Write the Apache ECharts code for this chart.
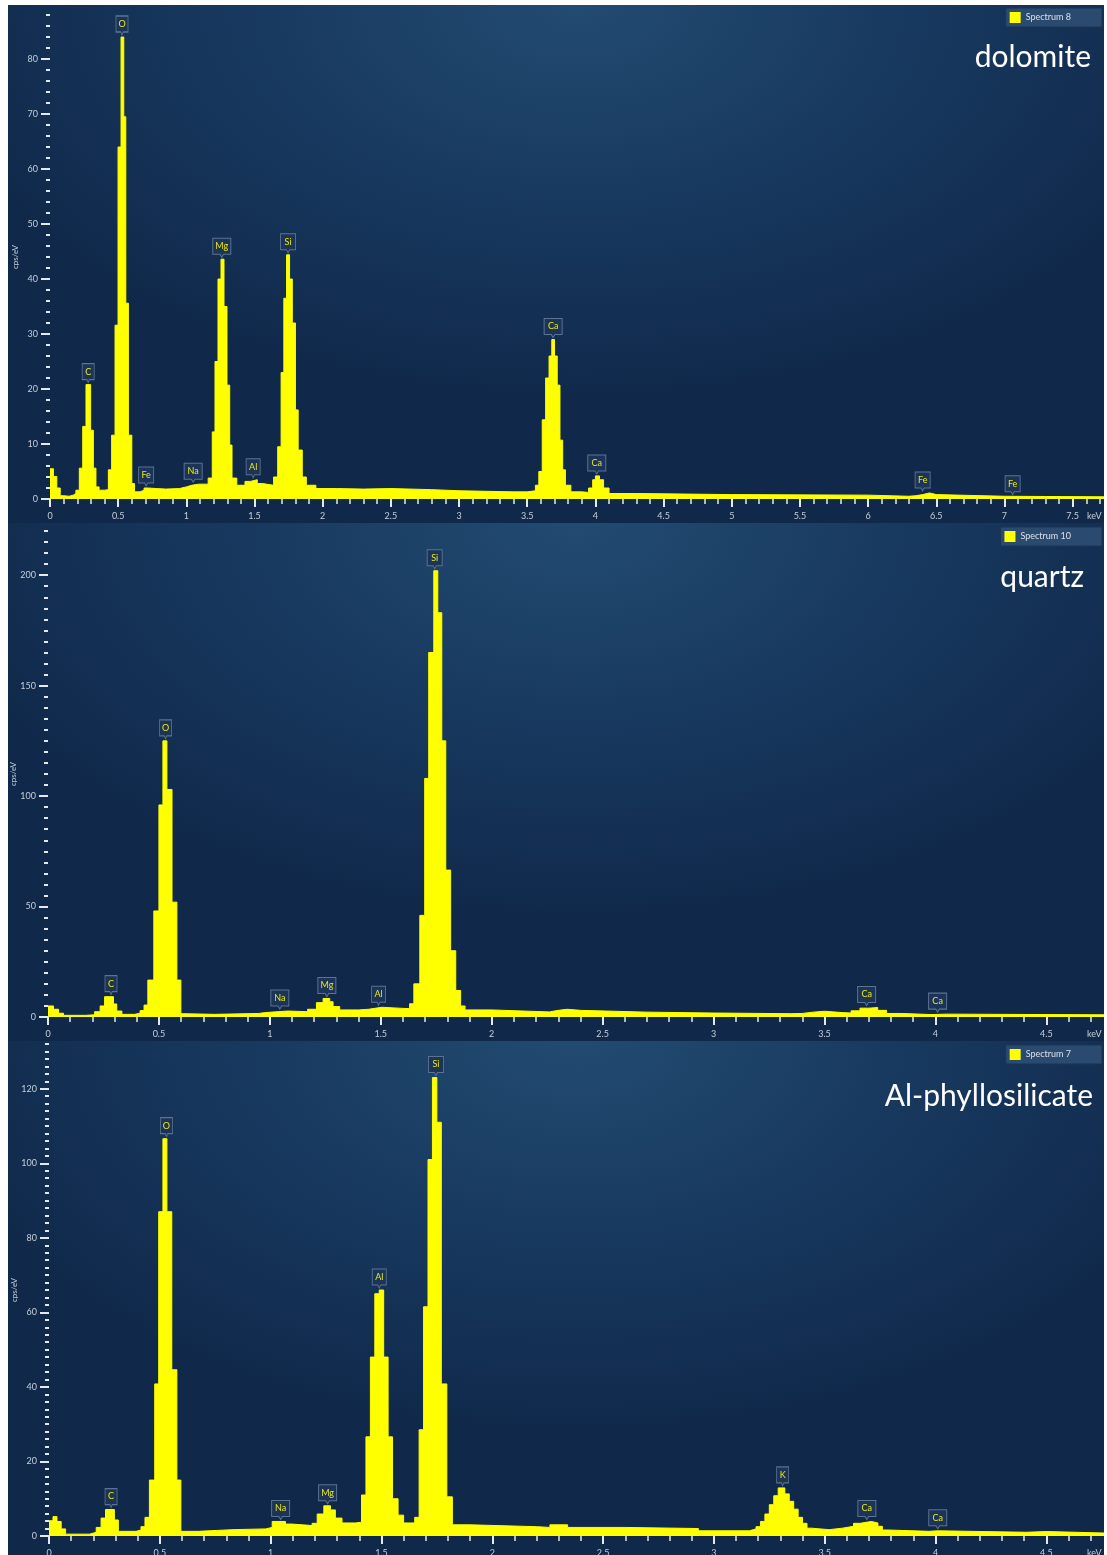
<!DOCTYPE html>
<html>
<head>
<meta charset="utf-8">
<script src="https://cdn.jsdelivr.net/npm/echarts@6/dist/echarts.min.js"></script>
<style>
  html, body { margin: 0; padding: 0; background: #ffffff; }
  #wrap { position: relative; width: 1107px; height: 1555px; }
  .panel { position: absolute; left: 8px; width: 1096px;
    background: radial-gradient(ellipse 75% 95% at 52% 0%, #224b71 0%, #18395f 40%, #10294b 80%); }
  #chart { position: absolute; left: 0; top: 0; width: 1107px; height: 1555px; }
</style>
</head>
<body>
<div id="wrap">
  <div class="panel" style="top:5px;height:518px"></div>
  <div class="panel" style="top:523px;height:518px"></div>
  <div class="panel" style="top:1041px;height:514px"></div>
  <div id="chart"></div>
</div>
<script>
// spectra: [keV (left edge of bin), cps/eV]
const dolomite = [
  [0, 5.5], [0.025, 4.1], [0.05, 2.0], [0.075, 0.6], [0.10, 0.5], [0.14, 0.7], [0.17, 1.0], [0.19, 1.6],
  [0.215, 5.6], [0.24, 13.2], [0.264, 20.8], [0.298, 12.5], [0.318, 5.6], [0.337, 2.2], [0.36, 1.6], [0.40, 1.7],
  [0.428, 5.3], [0.452, 11.6], [0.477, 31.6], [0.499, 64], [0.521, 84], [0.541, 69.5], [0.556, 35.6], [0.575, 11.6],
  [0.60, 2.8], [0.62, 1.3], [0.66, 1.6], [0.69, 2.0], [0.72, 1.9], [0.78, 1.8], [0.85, 1.9], [0.95, 2.2],
  [1.00, 2.5], [1.04, 2.7], [1.09, 2.7], [1.16, 3.8], [1.19, 12.2], [1.21, 25], [1.232, 40], [1.254, 43.6],
  [1.276, 35], [1.298, 20.7], [1.318, 9.8], [1.335, 3.8], [1.37, 2.5], [1.43, 3.2], [1.47, 3.5], [1.52, 2.8],
  [1.56, 2.5], [1.64, 4.0], [1.67, 9.5], [1.695, 23], [1.715, 36.5], [1.735, 44.4], [1.757, 40], [1.777, 32],
  [1.80, 16.2], [1.82, 8.9], [1.85, 4.0], [1.88, 2.5], [1.95, 1.9], [2.1, 1.8], [2.3, 1.9], [2.5, 1.7],
  [2.8, 1.5], [3.0, 1.4], [3.2, 1.3], [3.4, 1.3], [3.5, 1.5], [3.56, 2.5], [3.585, 5.0], [3.61, 14.4],
  [3.635, 22], [3.66, 26], [3.68, 29], [3.70, 26], [3.72, 20.7], [3.74, 10.7], [3.76, 5.3], [3.78, 2.5],
  [3.82, 1.3], [3.9, 1.2], [3.95, 2.0], [3.98, 3.5], [4.0, 4.2], [4.03, 3.5], [4.06, 2.0], [4.1, 1.0],
  [4.3, 0.8], [5.0, 0.7], [6.0, 0.5], [6.3, 0.6], [6.35, 0.8], [6.4, 1.1], [6.45, 0.8], [6.5, 0.5],
  [7.0, 0.4], [7.73, 0.3]
];

const quartz = [
  [0, 5.0], [0.025, 3.5], [0.048, 1.7], [0.07, 0.75], [0.17, 1.0], [0.21, 2.4], [0.235, 5.0], [0.255, 9.2],
  [0.295, 5.9], [0.31, 2.7], [0.333, 1.2], [0.39, 1.7], [0.415, 2.9], [0.433, 5.4], [0.45, 16.7], [0.477, 48],
  [0.50, 96], [0.518, 125], [0.536, 103], [0.559, 52], [0.581, 16.7], [0.599, 1.5], [0.61, 1.2], [0.75, 1.6],
  [0.95, 2.0], [0.98, 2.7], [1.08, 2.4], [1.17, 3.5], [1.21, 6.5], [1.24, 8.4], [1.27, 6.9], [1.285, 4.7],
  [1.315, 3.2], [1.40, 3.5], [1.445, 4.4], [1.505, 3.9], [1.60, 3.8], [1.63, 6.0], [1.649, 15], [1.676, 46],
  [1.698, 108], [1.716, 165], [1.739, 202], [1.757, 183], [1.775, 125], [1.793, 66.5], [1.815, 30], [1.838, 12],
  [1.86, 5.0], [1.88, 3.2], [2.0, 2.5], [2.2, 2.3], [2.26, 3.0], [2.3, 3.5], [2.34, 3.0], [2.4, 2.2],
  [2.7, 1.8], [3.0, 1.5], [3.35, 1.6], [3.40, 2.2], [3.45, 2.6], [3.5, 2.0], [3.58, 1.8], [3.62, 2.8],
  [3.66, 4.0], [3.70, 4.3], [3.74, 3.0], [3.78, 1.6], [3.85, 1.1], [3.98, 1.3], [4.05, 1.0], [4.76, 0.8]
];

const phyllo = [
  [0, 4.1], [0.018, 5.2], [0.036, 3.9], [0.055, 1.9], [0.075, 0.5], [0.183, 1.0], [0.213, 2.3], [0.235, 4.8],
  [0.255, 7.1], [0.295, 4.3], [0.313, 1.25], [0.393, 1.6], [0.415, 2.5], [0.433, 5.0], [0.453, 15], [0.477, 40.8],
  [0.495, 87], [0.514, 106.6], [0.532, 87], [0.554, 44.6], [0.577, 15], [0.595, 1.25], [0.673, 1.7], [0.83, 1.9],
  [0.977, 2.3], [1.007, 3.9], [1.067, 3.2], [1.097, 2.8], [1.187, 3.4], [1.21, 5.9], [1.24, 8.1], [1.27, 7.0],
  [1.292, 4.8], [1.322, 3.5], [1.382, 3.7], [1.41, 11], [1.43, 26.6], [1.45, 48], [1.47, 65], [1.49, 66],
  [1.51, 48], [1.53, 26.6], [1.55, 10], [1.575, 5.6], [1.60, 3.5], [1.65, 5.0], [1.67, 28.5], [1.69, 61.5],
  [1.71, 101], [1.73, 123], [1.75, 111], [1.77, 40.8], [1.795, 10.5], [1.82, 3.0], [1.9, 2.5], [2.2, 2.3],
  [2.26, 3.0], [2.34, 2.3], [2.6, 2.0], [2.93, 1.4], [3.16, 1.9], [3.19, 2.5], [3.21, 3.9], [3.23, 5.9],
  [3.25, 8.4], [3.27, 10.8], [3.29, 12.9], [3.32, 11.3], [3.34, 9.3], [3.36, 7.2], [3.38, 5.0], [3.40, 3.4],
  [3.42, 2.1], [3.44, 1.7], [3.52, 2.1], [3.58, 2.6], [3.63, 3.4], [3.66, 3.9], [3.71, 3.5], [3.74, 2.6],
  [3.76, 1.6], [3.79, 1.25], [3.97, 1.4], [4.01, 1.0], [4.41, 1.2], [4.5, 0.8], [4.76, 0.8]
];

// element line markers
const dolomiteLines = ['C', 'O', 'Fe', 'Na', 'Mg', 'Al', 'Si', 'Ca', 'Ca', 'Fe', 'Fe'];
const dolomiteLineKeV = [0.28, 0.528, 0.705, 1.05, 1.26, 1.49, 1.746, 3.69, 4.01, 6.40, 7.06];
const quartzLines = ['C', 'O', 'Na', 'Mg', 'Al', 'Si', 'Ca', 'Ca'];
const quartzLineKeV = [0.284, 0.53, 1.045, 1.257, 1.49, 1.743, 3.69, 4.01];
const phylloLines = ['C', 'O', 'Na', 'Mg', 'Al', 'Si', 'K', 'Ca', 'Ca'];
const phylloLineKeV = [0.28, 0.53, 1.045, 1.257, 1.49, 1.746, 3.31, 3.69, 4.01];

// tick labels
const dolomiteXTicks = [0, 0.5, 1, 1.5, 2, 2.5, 3, 3.5, 4, 4.5, 5, 5.5, 6, 6.5, 7, 7.5];
const shortXTicks = [0, 0.5, 1, 1.5, 2, 2.5, 3, 3.5, 4, 4.5];
const dolomiteYTicks = [0, 10, 20, 30, 40, 50, 60, 70, 80];
const quartzYTicks = [0, 50, 100, 150, 200];
const phylloYTicks = [0, 20, 40, 60, 80, 100, 120];

const titles = ['dolomite', 'quartz', 'Al-phyllosilicate'];
const spectrumNames = ['Spectrum 8', 'Spectrum 10', 'Spectrum 7'];

const YELLOW = '#ffff00';
const TICK = '#e4e9ef';
const LABEL = '#c5ced9';

const panels = [
  { data: dolomite, lines: dolomiteLines, lineKeV: dolomiteLineKeV, xTicks: dolomiteXTicks, yTicks: dolomiteYTicks,
    xMax: 7.73, yMax: 88, yMinor: 2, grid: { left: 50, top: 15, width: 1054, height: 484 },
    legendTop: 8, titleTop: 42, titleRight: 16 },
  { data: quartz, lines: quartzLines, lineKeV: quartzLineKeV, xTicks: shortXTicks, yTicks: quartzYTicks,
    xMax: 4.76, yMax: 220, yMinor: 5, grid: { left: 48, top: 531, width: 1056, height: 486 },
    legendTop: 527, titleTop: 562, titleRight: 23 },
  { data: phyllo, lines: phylloLines, lineKeV: phylloLineKeV, xTicks: shortXTicks, yTicks: phylloYTicks,
    xMax: 4.76, yMax: 132, yMinor: 2, grid: { left: 49, top: 1044, width: 1055, height: 492 },
    legendTop: 1045, titleTop: 1081, titleRight: 14 }
];

function minorTicks(max, step) {
  const v = [];
  for (let k = 0; k * step <= max + 1e-9; k++) v.push(+(k * step).toFixed(3));
  return v;
}

// value of the step spectrum around an energy
function valueAt(data, e) {
  let v = 0;
  for (const p of data) { if (p[0] <= e) v = p[1]; }
  return v;
}
function peakNear(data, e) {
  return Math.max(valueAt(data, e - 0.015), valueAt(data, e), valueAt(data, e + 0.015));
}

function boxWidth(t) {
  if (t.length === 1) return 12;
  if (t === 'Al') return 14;
  if (t === 'Fe' || t === 'Si') return 15;
  return 18;
}

const grids = [], xAxes = [], yAxes = [], series = [], legends = [], titleList = [];

panels.forEach((p, i) => {
  grids.push(Object.assign({ outerBoundsMode: 'none', containLabel: false }, p.grid));
  // major x axis
  xAxes.push({
    gridIndex: i, type: 'value', min: 0, max: p.xMax, position: 'bottom',
    axisLine: { show: false }, splitLine: { show: false },
    axisTick: { show: true, customValues: p.xTicks, length: 8, lineStyle: { color: TICK, width: 2 } },
    axisLabel: { customValues: p.xTicks, color: LABEL, fontSize: 9, margin: 13 },
    name: 'keV', nameLocation: 'end', nameGap: -17, nameMoveOverlap: false,
    nameTextStyle: { color: LABEL, fontSize: 9, verticalAlign: 'top', padding: [13, 0, 0, 0] }
  });
  // minor x ticks
  xAxes.push({
    gridIndex: i, type: 'value', min: 0, max: p.xMax, position: 'bottom',
    axisLine: { show: false }, splitLine: { show: false }, axisLabel: { show: false },
    axisTick: { show: true, customValues: minorTicks(p.xMax, 0.1), length: 5, lineStyle: { color: TICK, width: 1.5 } }
  });
  yAxes.push({
    gridIndex: i, type: 'value', min: 0, max: p.yMax, position: 'left', offset: 1,
    axisLine: { show: false }, splitLine: { show: false },
    axisTick: { show: true, customValues: p.yTicks, length: 9, lineStyle: { color: TICK, width: 2 } },
    axisLabel: { customValues: p.yTicks, color: LABEL, fontSize: 9, margin: 11 },
    name: 'cps/eV', nameLocation: 'middle', nameGap: 30, nameMoveOverlap: false,
    nameTextStyle: { color: LABEL, fontSize: 8 }
  });
  yAxes.push({
    gridIndex: i, type: 'value', min: 0, max: p.yMax, interval: p.yMinor, position: 'left', offset: 1,
    axisLine: { show: false }, splitLine: { show: false }, axisLabel: { show: false },
    axisTick: { show: true, length: 4, lineStyle: { color: TICK, width: 2 } }
  });

  const marks = p.lines.map((el, k) => ({
    name: el,
    coord: [p.lineKeV[k], peakNear(p.data, p.lineKeV[k])],
    symbolSize: [boxWidth(el), 19]
  }));

  series.push({
    type: 'line', name: spectrumNames[i], xAxisIndex: 2 * i, yAxisIndex: 2 * i,
    data: p.data, step: 'end', symbol: 'none', silent: true,
    lineStyle: { color: YELLOW, width: 1 }, itemStyle: { color: YELLOW },
    areaStyle: { color: YELLOW, opacity: 1 },
    markPoint: {
      silent: true,
      symbol: 'path://M0,0 H20 V16 H12 L10,19 L8,16 H0 Z',
      symbolKeepAspect: false,
      symbolOffset: [0, -11.5],
      itemStyle: { color: '#1b3457', borderColor: '#5d7393', borderWidth: 1 },
      label: { show: true, position: 'inside', formatter: '{b}', color: '#eaea10', fontSize: 9, offset: [0, -1.5] },
      data: marks
    }
  });

  legends.push({
    top: p.legendTop, right: 5, orient: 'horizontal', selectedMode: false,
    data: [{ name: spectrumNames[i], icon: 'rect' }],
    itemWidth: 11, itemHeight: 11,
    backgroundColor: '#2a4a6f', borderColor: '#1a3454', borderWidth: 1, borderRadius: 1,
    padding: [4, 31, 4, 4],
    textStyle: { color: '#d9e1ea', fontSize: 9 }
  });

  titleList.push({
    text: titles[i], right: p.titleRight, top: p.titleTop, padding: 0,
    textStyle: { color: '#ffffff', fontSize: 30, fontWeight: 'normal', fontFamily: 'Lato' }
  });
});

const chart = echarts.init(document.getElementById('chart'));
chart.setOption({
  animation: false,
  backgroundColor: 'transparent',
  textStyle: { fontFamily: 'Lato' },
  title: titleList,
  legend: legends,
  grid: grids,
  xAxis: xAxes,
  yAxis: yAxes,
  series: series
});
</script>
</body>
</html>
